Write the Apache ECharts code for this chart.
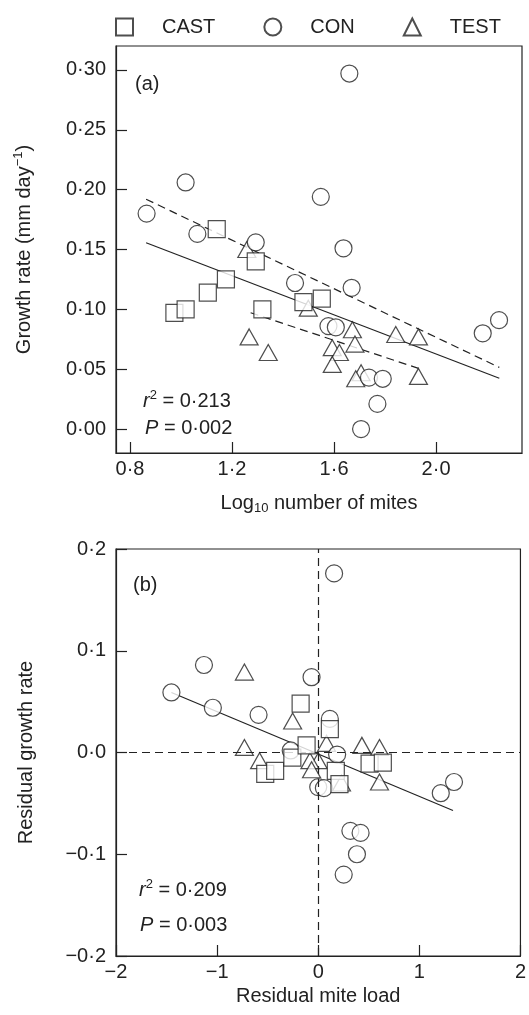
<!DOCTYPE html>
<html><head><meta charset="utf-8">
<script src="https://cdn.jsdelivr.net/npm/echarts@6/dist/echarts.min.js"></script>
<style>html,body{margin:0;padding:0;background:#fff}#c{width:529px;height:1015px}</style>
</head><body><div id="c"></div>
<script>
// ---------- Panel (a): growth rate vs log10 number of mites ----------
const castA = [[0.974,0.097],[1.018,0.100],[1.105,0.114],[1.140,0.167],[1.176,0.125],[1.293,0.140],[1.319,0.100],[1.480,0.106],[1.552,0.109]];
const conA = [[0.865,0.180],[1.018,0.206],[1.064,0.163],[1.293,0.156],[1.447,0.122],[1.548,0.194],[1.660,0.297],[1.637,0.151],[1.669,0.118],[1.578,0.086],[1.607,0.085],[1.737,0.043],[1.791,0.042],[1.770,0.021],[1.706,0.000],[2.183,0.080],[2.247,0.091]];
const testA = [[1.258,0.150],[1.267,0.077],[1.342,0.064],[1.499,0.101],[1.672,0.083],[1.593,0.068],[1.682,0.071],[1.621,0.064],[1.593,0.054],[1.842,0.079],[1.931,0.077],[1.706,0.047],[1.685,0.042],[1.931,0.044]];
const fitA = [[0.863,0.1556],[2.248,0.0424]];
const upperA = [[0.863,0.192],[2.248,0.0515]];
const lowerA = [[1.273,0.0972],[1.931,0.0507]];
const xTicksA = [0.8,1.2,1.6,2.0];
const yTicksA = [0,0.05,0.10,0.15,0.20,0.25,0.30];

// ---------- Panel (b): residual growth rate vs residual mite load ----------
const castB = [[-0.174,0.048],[-0.524,-0.021],[-0.426,-0.018],[-0.256,-0.005],[-0.115,0.007],[0.115,0.023],[0.508,-0.011],[0.639,-0.010],[0.174,-0.018],[0.21,-0.031]];
const conB = [[-1.452,0.059],[-1.130,0.086],[-1.042,0.044],[-0.590,0.037],[-0.272,0.002],[-0.066,0.074],[0.157,0.176],[0.115,0.033],[0.187,-0.002],[0.0,-0.034],[0.056,-0.035],[1.212,-0.040],[1.343,-0.029],[0.318,-0.077],[0.419,-0.079],[0.383,-0.100],[0.252,-0.120]];
const testB = [[-0.730,0.079],[-0.253,0.031],[-0.730,0.005],[-0.580,-0.008],[0.082,0.009],[0.432,0.007],[0.606,0.005],[0.0,-0.008],[-0.082,-0.008],[-0.066,-0.017],[0.606,-0.029],[0.23,-0.03]];
const fitB = [[-1.452,0.059],[1.333,-0.057]];

const statsA = ['0·213','0·002'];
const statsB = ['0·209','0·003'];

const FONT = '"Liberation Sans", Arial, Helvetica, sans-serif';
const INK = '#222';
const chart = echarts.init(document.getElementById('c'), null, {renderer:'canvas'});

const dot = s => s.replace('.', '·').replace('-', '−');
const mk = {color:'#fff', borderColor:INK, borderWidth:1.2};
function pts(name, data, gi, symbol, size, z){
  return {type:'scatter', name, data, xAxisIndex:gi, yAxisIndex:gi, symbol, symbolSize:size,
    itemStyle:mk, z, silent:true, emphasis:{disabled:true}};
}
function ln(data, gi, dashed){
  return {type:'line', data, xAxisIndex:gi, yAxisIndex:gi, symbol:'none', silent:true, z:1,
    lineStyle:{color:INK, width:1.2, type: dashed ? [8,5] : 'solid'}};
}
const axLine = {show:true, onZero:false, lineStyle:{color:INK, width:1.2}};
const tickStyle = {color:INK, width:1.2};
const lbl = {fontSize:20, color:INK, fontFamily:FONT};
const nameRich = {
  t:{fontSize:20, color:INK, fontFamily:FONT, lineHeight:24},
  s:{fontSize:13, color:INK, fontFamily:FONT, lineHeight:13, verticalAlign:'bottom'},
  u:{fontSize:13, color:INK, fontFamily:FONT, lineHeight:13, verticalAlign:'top'}
};

function stat(x, y, first){
  return {type:'text', x, y, silent:true, style:{
    text: first, rich: {
      i:{fontSize:20, fontStyle:'italic', fontFamily:FONT, fill:INK, lineHeight:24},
      n:{fontSize:20, fontFamily:FONT, fill:INK, lineHeight:24},
      u:{fontSize:13, fontFamily:FONT, fill:INK, lineHeight:13, verticalAlign:'top'}
    }, verticalAlign:'middle'}};
}

chart.setOption({
  animation:false,
  backgroundColor:'#fff',
  legend:{data:['CAST','CON','TEST'], left:110, top:12, itemWidth:17, itemHeight:17, itemGap:48,
    textStyle:{fontSize:20, color:INK, fontFamily:FONT, padding:[0,0,0,24]}, selectedMode:false},
  grid:[
    {left:116, top:46, width:406, height:407, show:true, borderColor:INK, borderWidth:1.2, containLabel:false},
    {left:116, top:549, width:407, height:407, show:true, borderColor:INK, borderWidth:1.2, containLabel:false}
  ],
  xAxis:[
    {gridIndex:0, type:'value', min:0.745, max:2.337, axisLine:axLine,
     axisTick:{show:true, inside:true, length:11, customValues:xTicksA, lineStyle:tickStyle},
     axisLabel:Object.assign({customValues:xTicksA, margin:6, formatter:v=>dot(v.toFixed(1))}, lbl),
     splitLine:{show:false},
     name:'{t|Log}{s|10}{t| number of mites}', nameLocation:'middle', nameGap:38,
     nameTextStyle:{rich:nameRich}},
    {gridIndex:1, type:'value', min:-2, max:2, interval:1, axisLine:axLine,
     axisTick:{show:true, inside:true, length:11, lineStyle:tickStyle},
     axisLabel:Object.assign({margin:6, formatter:v=>dot(String(v))}, lbl),
     splitLine:{show:false},
     name:'Residual mite load', nameLocation:'middle', nameGap:30,
     nameTextStyle:{fontSize:20, color:INK, fontFamily:FONT}}
  ],
  yAxis:[
    {gridIndex:0, type:'value', min:-0.02, max:0.32, axisLine:axLine,
     axisTick:{show:true, inside:true, length:11, customValues:yTicksA, lineStyle:tickStyle},
     axisLabel:Object.assign({customValues:yTicksA, margin:10, formatter:v=>dot(v.toFixed(2))}, lbl),
     splitLine:{show:false},
     name:'{t|Growth rate (mm day}{u|−1}{t|)}', nameLocation:'middle', nameGap:80,
     nameTextStyle:{rich:nameRich}},
    {gridIndex:1, type:'value', min:-0.2, max:0.2, interval:0.1, axisLine:axLine,
     axisTick:{show:true, inside:true, length:11, lineStyle:tickStyle},
     axisLabel:Object.assign({margin:10, formatter:v=>dot(v.toFixed(1))}, lbl),
     splitLine:{show:false},
     name:'Residual growth rate', nameLocation:'middle', nameGap:80,
     nameTextStyle:{fontSize:20, color:INK, fontFamily:FONT}}
  ],
  series:[
    pts('CAST', castA, 0, 'rect', 17, 5),
    pts('CON', conA, 0, 'circle', 17, 4),
    pts('TEST', testA, 0, 'triangle', [18,16], 3),
    ln(fitA, 0, false), ln(upperA, 0, true), ln(lowerA, 0, true),
    pts('CAST', castB, 1, 'rect', 17, 5),
    pts('CON', conB, 1, 'circle', 17, 4),
    pts('TEST', testB, 1, 'triangle', [18,16], 3),
    ln(fitB, 1, false),
    {type:'scatter', name:'ref', data:[], xAxisIndex:1, yAxisIndex:1, silent:true, z:1,
     markLine:{silent:true, symbol:['none','none'], label:{show:false},
       lineStyle:{color:INK, width:1.2, type:[8,5]},
       data:[{xAxis:0},{yAxis:0}]}}
  ],
  graphic:[
    {type:'text', x:135, y:84, silent:true, style:{text:'(a)', fontSize:20, fontFamily:FONT, fill:INK, verticalAlign:'middle'}},
    stat(143, 401, '{i|r}{u|2}{n| = '+statsA[0]+'}'),
    stat(145, 428, '{i|P}{n| = '+statsA[1]+'}'),
    {type:'text', x:133, y:585, silent:true, style:{text:'(b)', fontSize:20, fontFamily:FONT, fill:INK, verticalAlign:'middle'}},
    stat(139, 890, '{i|r}{u|2}{n| = '+statsB[0]+'}'),
    stat(140, 925, '{i|P}{n| = '+statsB[1]+'}')
  ]
});
</script></body></html>
